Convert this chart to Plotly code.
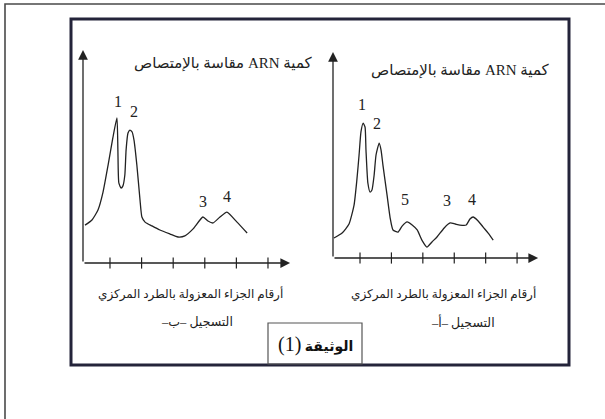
import plotly.graph_objects as go

# ---------------- data ----------------
# Recording "ب" (left panel): fraction number vs RNA absorbance (arbitrary units)
b_x = [0.21, 0.43, 0.62, 0.78, 0.94, 1.09, 1.22, 1.25, 1.28, 1.35, 1.41, 1.47, 1.51, 1.57,
       1.63, 1.70, 1.76, 1.85, 1.95, 2.01, 2.11, 2.33, 2.58, 2.90, 3.15, 3.37, 3.63, 3.94,
       4.10, 4.26, 4.48, 4.70, 5.02, 5.34]
b_y = [17.8, 20.2, 24.9, 33.3, 46.0, 58.7, 68.1, 53.1, 37.6, 35.2, 36.2, 41.3, 53.1, 61.0,
       62.4, 61.5, 57.7, 46.0, 29.6, 21.6, 19.2, 17.4, 15.5, 13.6, 12.2, 12.7, 16.0, 21.6,
       19.7, 18.8, 21.6, 23.9, 19.2, 14.1]
b_peak_x = [1.25, 1.76, 3.94, 4.70]
b_peak_y = [75.6, 70.9, 29.1, 31.0]
b_peak_lbl = ["1", "2", "3", "4"]

# Recording "أ" (right panel)
a_x = [0.17, 0.43, 0.65, 0.81, 0.90, 0.97, 1.03, 1.10, 1.16, 1.19, 1.25, 1.32, 1.38, 1.45,
       1.51, 1.61, 1.67, 1.73, 1.86, 1.96, 2.05, 2.21, 2.34, 2.50, 2.66, 2.82, 2.97, 3.13,
       3.29, 3.45, 3.68, 3.87, 4.03, 4.18, 4.38, 4.50, 4.60, 4.76, 4.92, 5.08, 5.24]
a_y = [9.7, 12.1, 16.5, 25.7, 37.9, 50.0, 61.2, 65.5, 63.6, 52.4, 36.4, 32.0, 33.0, 40.3,
       50.0, 55.8, 52.4, 45.1, 30.6, 19.4, 13.6, 12.6, 15.5, 17.5, 16.0, 13.6, 8.7, 5.3,
       7.8, 10.2, 14.6, 17.0, 16.5, 16.0, 16.0, 18.9, 19.9, 18.0, 15.0, 12.1, 8.7]
a_peak_x = [1.06, 1.54, 2.43, 3.77, 4.57]
a_peak_y = [74.3, 65.5, 28.2, 27.7, 28.2]
a_peak_lbl = ["1", "2", "5", "3", "4"]

tick_vals = [1, 2, 3, 4, 5, 6]

y_title = "كمية ARN مقاسة بالإمتصاص"
x_title = "أرقام الجزاء المعزولة بالطرد المركزي"
rec_b = "التسجيل –ب–"
rec_a = "التسجيل –أ–"
doc_word = "الوثيقة"
doc_num = "(1)"

RLE, PDF = "\u202b", "\u202c"
def rtl(s):
    return RLE + s + PDF

FONT = "Liberation Serif, DejaVu Sans, serif"
INK = "#222222"
W, H = 605, 419

def px(x):
    return x / W

def py(y):
    return 1 - y / H

fig = go.Figure()

# curves
fig.add_trace(go.Scatter(x=b_x, y=b_y, mode="lines", xaxis="x", yaxis="y",
                         line=dict(color=INK, width=1.3, shape="spline", smoothing=0.5),
                         hoverinfo="skip", showlegend=False))
fig.add_trace(go.Scatter(x=a_x, y=a_y, mode="lines", xaxis="x2", yaxis="y2",
                         line=dict(color=INK, width=1.3, shape="spline", smoothing=0.5),
                         hoverinfo="skip", showlegend=False))
# tick marks crossing the x axes
for xa, ya in (("x", "y"), ("x2", "y2")):
    fig.add_trace(go.Scatter(x=tick_vals, y=[0] * len(tick_vals), mode="markers",
                             xaxis=xa, yaxis=ya, cliponaxis=False,
                             marker=dict(symbol="line-ns", size=8,
                                         line=dict(color=INK, width=1.2)),
                             hoverinfo="skip", showlegend=False))

# axes (hidden; axis lines with arrowheads drawn as annotation arrows)
b_x0, b_xend = 0.146, 6.70
a_x0, a_xend = 0.14, 6.67
axis_common = dict(visible=False, showgrid=False, zeroline=False, fixedrange=True)
fig.update_layout(
    xaxis=dict(domain=[px(83), px(292)], range=[b_x0, 6.76], anchor="y", **axis_common),
    yaxis=dict(domain=[py(263), py(50)], range=[0, 100], anchor="x", **axis_common),
    xaxis2=dict(domain=[px(333), px(540)], range=[a_x0, 6.73], anchor="y2", **axis_common),
    yaxis2=dict(domain=[py(258), py(52)], range=[0, 100], anchor="x2", **axis_common),
)

annotations = []
for xr, yr, x0, xend in (("x", "y", b_x0, b_xend), ("x2", "y2", a_x0, a_xend)):
    annotations.append(dict(xref=xr, yref=yr, axref=xr, ayref=yr, x=xend, y=0, ax=x0, ay=0,
                            text="", showarrow=True, arrowhead=2, arrowsize=1.5,
                            arrowwidth=1.3, arrowcolor=INK))
    annotations.append(dict(xref=xr, yref=yr, axref=xr, ayref=yr, x=x0, y=100, ax=x0, ay=0,
                            text="", showarrow=True, arrowhead=2, arrowsize=1.5,
                            arrowwidth=1.3, arrowcolor=INK))

for xs, ys, ls, xr, yr in ((b_peak_x, b_peak_y, b_peak_lbl, "x", "y"),
                           (a_peak_x, a_peak_y, a_peak_lbl, "x2", "y2")):
    for xv, yv, t in zip(xs, ys, ls):
        annotations.append(dict(xref=xr, yref=yr, x=xv, y=yv, text=t, showarrow=False,
                                font=dict(family=FONT, size=16, color=INK)))

annotations += [
    dict(xref="paper", yref="paper", x=px(315), y=py(63), xanchor="right", yanchor="middle",
         text=rtl(y_title), showarrow=False, font=dict(family=FONT, size=15, color=INK)),
    dict(xref="paper", yref="paper", x=px(552), y=py(70), xanchor="right", yanchor="middle",
         text=rtl(y_title), showarrow=False, font=dict(family=FONT, size=15, color=INK)),
    dict(xref="paper", yref="paper", x=px(190), y=py(294), xanchor="center", yanchor="middle",
         text=rtl(x_title), showarrow=False, font=dict(family=FONT, size=12, color=INK)),
    dict(xref="paper", yref="paper", x=px(443), y=py(294), xanchor="center", yanchor="middle",
         text=rtl(x_title), showarrow=False, font=dict(family=FONT, size=12, color=INK)),
    dict(xref="paper", yref="paper", x=px(197), y=py(322), xanchor="center", yanchor="middle",
         text=rtl(rec_b), showarrow=False, font=dict(family=FONT, size=12.5, color=INK)),
    dict(xref="paper", yref="paper", x=px(463), y=py(322), xanchor="center", yanchor="middle",
         text=rtl(rec_a), showarrow=False, font=dict(family=FONT, size=12.5, color=INK)),
    dict(xref="paper", yref="paper", x=px(315), y=py(344), xanchor="center", yanchor="middle",
         text=rtl("<b>" + doc_word + "</b> <span style='font-size:20px'>" + doc_num + "</span>"),
         showarrow=False, font=dict(family=FONT, size=14, color="#111")),
]

shapes = [
    dict(type="rect", xref="paper", yref="paper", x0=px(5), x1=px(640), y0=py(460), y1=py(4),
         line=dict(color="#4a4a4a", width=1.6)),
    dict(type="rect", xref="paper", yref="paper", x0=px(71), x1=px(569), y0=py(365), y1=py(19),
         line=dict(color="#24243a", width=3)),
    dict(type="rect", xref="paper", yref="paper", x0=px(268), x1=px(362), y0=py(364), y1=py(323),
         line=dict(color="#555555", width=1.2)),
]

fig.update_layout(
    width=W, height=H, margin=dict(l=0, r=0, t=0, b=0),
    paper_bgcolor="white", plot_bgcolor="rgba(0,0,0,0)",
    annotations=annotations, shapes=shapes, showlegend=False,
)

fig.write_html("out.html", config={"displayModeBar": False},
               post_script="document.body.style.margin='0';document.body.style.overflow='hidden';")
